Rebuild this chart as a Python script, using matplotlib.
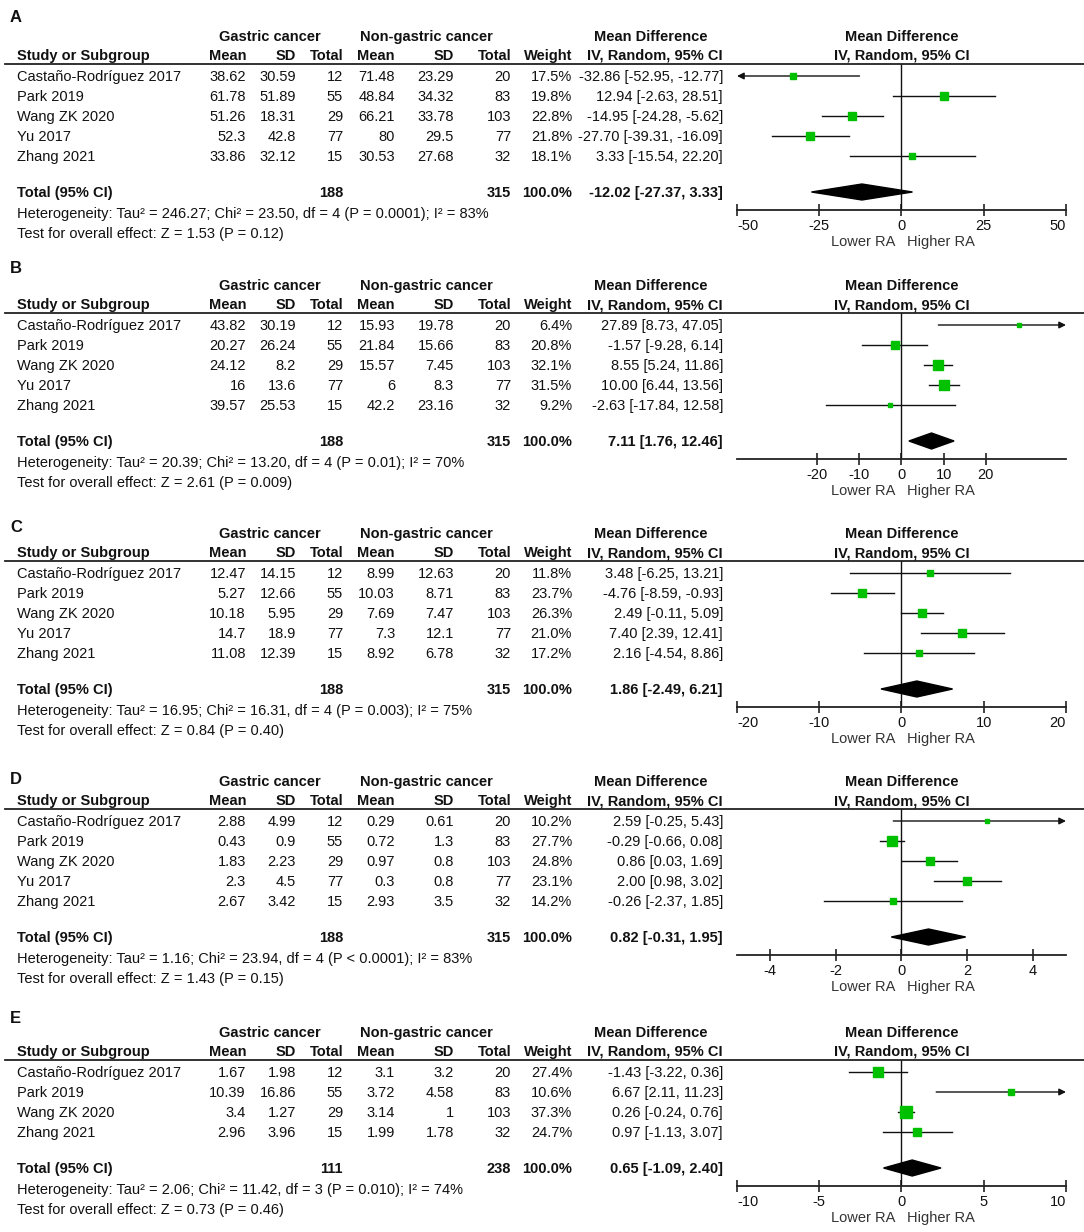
import matplotlib
matplotlib.use("Agg")
import matplotlib.pyplot as plt
from matplotlib.patches import Polygon
from matplotlib.lines import Line2D
from matplotlib.transforms import Affine2D

plt.rcParams['font.family'] = ['Liberation Sans', 'DejaVu Sans']

# ---- data -------------------------------------------------------------
studies_5 = ["Castaño-Rodríguez 2017", "Park 2019", "Wang ZK 2020", "Yu 2017", "Zhang 2021"]
studies_4 = ["Castaño-Rodríguez 2017", "Park 2019", "Wang ZK 2020", "Zhang 2021"]

# A
a_g_mean = [38.62, 61.78, 51.26, 52.3, 33.86]
a_g_sd = [30.59, 51.89, 18.31, 42.8, 32.12]
a_g_n = [12, 55, 29, 77, 15]
a_n_mean = [71.48, 48.84, 66.21, 80, 30.53]
a_n_sd = [23.29, 34.32, 33.78, 29.5, 27.68]
a_n_n = [20, 83, 103, 77, 32]
a_weight = [17.5, 19.8, 22.8, 21.8, 18.1]
a_md = [-32.86, 12.94, -14.95, -27.70, 3.33]
a_lo = [-52.95, -2.63, -24.28, -39.31, -15.54]
a_hi = [-12.77, 28.51, -5.62, -16.09, 22.20]
a_total = [-12.02, -27.37, 3.33]
a_het = ["246.27", "23.50", 4, "= 0.0001", 83]
a_test = ["1.53", "0.12"]
a_ticks = [-50, -25, 0, 25, 50]
a_lim = 50

# B
b_g_mean = [43.82, 20.27, 24.12, 16, 39.57]
b_g_sd = [30.19, 26.24, 8.2, 13.6, 25.53]
b_g_n = [12, 55, 29, 77, 15]
b_n_mean = [15.93, 21.84, 15.57, 6, 42.2]
b_n_sd = [19.78, 15.66, 7.45, 8.3, 23.16]
b_n_n = [20, 83, 103, 77, 32]
b_weight = [6.4, 20.8, 32.1, 31.5, 9.2]
b_md = [27.89, -1.57, 8.55, 10.00, -2.63]
b_lo = [8.73, -9.28, 5.24, 6.44, -17.84]
b_hi = [47.05, 6.14, 11.86, 13.56, 12.58]
b_total = [7.11, 1.76, 12.46]
b_het = ["20.39", "13.20", 4, "= 0.01", 70]
b_test = ["2.61", "0.009"]
b_ticks = [-20, -10, 0, 10, 20]
b_lim = 39

# C
c_g_mean = [12.47, 5.27, 10.18, 14.7, 11.08]
c_g_sd = [14.15, 12.66, 5.95, 18.9, 12.39]
c_g_n = [12, 55, 29, 77, 15]
c_n_mean = [8.99, 10.03, 7.69, 7.3, 8.92]
c_n_sd = [12.63, 8.71, 7.47, 12.1, 6.78]
c_n_n = [20, 83, 103, 77, 32]
c_weight = [11.8, 23.7, 26.3, 21.0, 17.2]
c_md = [3.48, -4.76, 2.49, 7.40, 2.16]
c_lo = [-6.25, -8.59, -0.11, 2.39, -4.54]
c_hi = [13.21, -0.93, 5.09, 12.41, 8.86]
c_total = [1.86, -2.49, 6.21]
c_het = ["16.95", "16.31", 4, "= 0.003", 75]
c_test = ["0.84", "0.40"]
c_ticks = [-20, -10, 0, 10, 20]
c_lim = 20

# D
d_g_mean = [2.88, 0.43, 1.83, 2.3, 2.67]
d_g_sd = [4.99, 0.9, 2.23, 4.5, 3.42]
d_g_n = [12, 55, 29, 77, 15]
d_n_mean = [0.29, 0.72, 0.97, 0.3, 2.93]
d_n_sd = [0.61, 1.3, 0.8, 0.8, 3.5]
d_n_n = [20, 83, 103, 77, 32]
d_weight = [10.2, 27.7, 24.8, 23.1, 14.2]
d_md = [2.59, -0.29, 0.86, 2.00, -0.26]
d_lo = [-0.25, -0.66, 0.03, 0.98, -2.37]
d_hi = [5.43, 0.08, 1.69, 3.02, 1.85]
d_total = [0.82, -0.31, 1.95]
d_het = ["1.16", "23.94", 4, "< 0.0001", 83]
d_test = ["1.43", "0.15"]
d_ticks = [-4, -2, 0, 2, 4]
d_lim = 5

# E
e_g_mean = [1.67, 10.39, 3.4, 2.96]
e_g_sd = [1.98, 16.86, 1.27, 3.96]
e_g_n = [12, 55, 29, 15]
e_n_mean = [3.1, 3.72, 3.14, 1.99]
e_n_sd = [3.2, 4.58, 1, 1.78]
e_n_n = [20, 83, 103, 32]
e_weight = [27.4, 10.6, 37.3, 24.7]
e_md = [-1.43, 6.67, 0.26, 0.97]
e_lo = [-3.22, 2.11, -0.24, -1.13]
e_hi = [0.36, 11.23, 0.76, 3.07]
e_total = [0.65, -1.09, 2.40]
e_het = ["2.06", "11.42", 3, "= 0.010", 74]
e_test = ["0.73", "0.46"]
e_ticks = [-10, -5, 0, 5, 10]
e_lim = 10

panels = [
    ("A", studies_5, a_g_mean, a_g_sd, a_g_n, a_n_mean, a_n_sd, a_n_n, a_weight, a_md, a_lo, a_hi, a_total, a_het, a_test, a_ticks, a_lim),
    ("B", studies_5, b_g_mean, b_g_sd, b_g_n, b_n_mean, b_n_sd, b_n_n, b_weight, b_md, b_lo, b_hi, b_total, b_het, b_test, b_ticks, b_lim),
    ("C", studies_5, c_g_mean, c_g_sd, c_g_n, c_n_mean, c_n_sd, c_n_n, c_weight, c_md, c_lo, c_hi, c_total, c_het, c_test, c_ticks, c_lim),
    ("D", studies_5, d_g_mean, d_g_sd, d_g_n, d_n_mean, d_n_sd, d_n_n, d_weight, d_md, d_lo, d_hi, d_total, d_het, d_test, d_ticks, d_lim),
    ("E", studies_4, e_g_mean, e_g_sd, e_g_n, e_n_mean, e_n_sd, e_n_n, e_weight, e_md, e_lo, e_hi, e_total, e_het, e_test, e_ticks, e_lim),
]

# ---- layout (pixels) --------------------------------------------------
W, H = 1084, 1232
FS = 10.5
INK = "#111111"
GREEN = "#00c000"
ROW = 20
first_row_y = [76, 325, 573, 821, 1072]
letter_y = [17, 268, 527, 779, 1018]
col_right = [246, 296, 343, 395, 454, 511, 572, 723]
PLOT_X0, PLOT_X1 = 737, 1066
plot_mid = (PLOT_X0 + PLOT_X1) / 2

fig = plt.figure(figsize=(W / 100, H / 100), dpi=100)
px = Affine2D().scale(1 / W, -1 / H).translate(0, 1) + fig.transFigure


def txt(x, y, s, ha="left", bold=False, size=FS):
    fig.text(x, y + 5, s, transform=px, ha=ha, va="baseline", fontsize=size,
             fontweight="bold" if bold else "normal", color=INK)


def num(v):
    return f"{v:g}"


for k, (letter, studies, gm, gs, gn, nm, ns, nn, wt, md, lo, hi, tot, het, test, ticks, lim) in enumerate(panels):
    r0 = first_row_y[k]
    n = len(studies)

    txt(10, letter_y[k], letter, bold=True, size=FS + 1.5)
    txt(270, r0 - 40, "Gastric cancer", ha="center", bold=True)
    txt(426, r0 - 40, "Non-gastric cancer", ha="center", bold=True)
    txt(651, r0 - 40, "Mean Difference", ha="center", bold=True)
    txt(plot_mid, r0 - 40, "Mean Difference", ha="center", bold=True)

    txt(17, r0 - 21, "Study or Subgroup", bold=True)
    for x, h in zip(col_right, ["Mean", "SD", "Total", "Mean", "SD", "Total", "Weight", "IV, Random, 95% CI"]):
        txt(x, r0 - 21, h, ha="right", bold=True)
    txt(plot_mid, r0 - 21, "IV, Random, 95% CI", ha="center", bold=True)
    fig.add_artist(Line2D([5, W], [r0 - 12, r0 - 12], transform=px, color="#222222", lw=1.3))

    # study rows
    for i in range(n):
        y = r0 + ROW * i
        txt(17, y, studies[i])
        cells = [num(gm[i]), num(gs[i]), str(gn[i]), num(nm[i]), num(ns[i]), str(nn[i]),
                 f"{wt[i]:.1f}%", f"{md[i]:.2f} [{lo[i]:.2f}, {hi[i]:.2f}]"]
        for x, c in zip(col_right, cells):
            txt(x, y, c, ha="right")

    # total row
    yt = r0 + ROW * (n - 1) + 36
    txt(17, yt, "Total (95% CI)", bold=True)
    txt(col_right[2], yt, str(sum(gn)), ha="right", bold=True)
    txt(col_right[5], yt, str(sum(nn)), ha="right", bold=True)
    txt(col_right[6], yt, f"{sum(wt):.1f}%", ha="right", bold=True)
    txt(col_right[7], yt, f"{tot[0]:.2f} [{tot[1]:.2f}, {tot[2]:.2f}]", ha="right", bold=True)
    txt(17, yt + 21, f"Heterogeneity: Tau² = {het[0]}; Chi² = {het[1]}, df = {het[2]} (P {het[3]}); I² = {het[4]}%")
    txt(17, yt + 41, f"Test for overall effect: Z = {test[0]} (P = {test[1]})")

    # forest plot
    top_px = r0 - 12
    axis_px = yt + 18
    ax = fig.add_axes([PLOT_X0 / W, 1 - axis_px / H, (PLOT_X1 - PLOT_X0) / W, (axis_px - top_px) / H])
    ax.set_xlim(-lim, lim)
    ax.set_ylim((axis_px - r0) / ROW, (top_px - r0) / ROW)
    ax.patch.set_alpha(0)
    for s in ["top", "left", "right"]:
        ax.spines[s].set_visible(False)
    ax.spines["bottom"].set_linewidth(1.3)
    ax.spines["bottom"].set_color("#222222")
    ax.set_yticks([])
    ax.set_xticks(ticks)
    ax.set_xticklabels([str(t) for t in ticks])
    ax.tick_params(axis="x", direction="inout", length=9, width=1.2, color="#222222",
                   labelsize=FS, labelcolor=INK, pad=2)
    for lab, t in zip(ax.get_xticklabels(), ticks):
        if t == -lim:
            lab.set_ha("left")
        elif t == lim:
            lab.set_ha("right")
    ax.axvline(0, color="#111111", lw=1.0)

    for i in range(n):
        a, b = max(lo[i], -lim), min(hi[i], lim)
        if hi[i] > lim:
            ax.annotate("", xy=(lim, i), xytext=(a, i), annotation_clip=False,
                        arrowprops=dict(arrowstyle="-|>", color="#111111", lw=1.0,
                                        mutation_scale=10, shrinkA=0, shrinkB=0))
        elif lo[i] < -lim:
            ax.annotate("", xy=(-lim, i), xytext=(b, i), annotation_clip=False,
                        arrowprops=dict(arrowstyle="-|>", color="#111111", lw=1.0,
                                        mutation_scale=10, shrinkA=0, shrinkB=0))
        else:
            ax.plot([a, b], [i, i], color="#111111", lw=1.0, clip_on=False)
        side_px = 2.5 + 0.24 * wt[i]
        ax.plot(md[i], i, marker="s", ms=side_px * 0.72, color=GREEN, mec=GREEN, zorder=3)

    ti = (yt - r0) / ROW
    ax.add_patch(Polygon([(tot[1], ti), (tot[0], ti - 0.4), (tot[2], ti), (tot[0], ti + 0.4)],
                         closed=True, color="black", zorder=4))

    ax.annotate("Lower RA", xy=(0, 0), xycoords=("data", "axes fraction"), xytext=(-6, -32),
                textcoords="offset pixels", ha="right", va="center", fontsize=FS, color="#333333")
    ax.annotate("Higher RA", xy=(0, 0), xycoords=("data", "axes fraction"), xytext=(6, -32),
                textcoords="offset pixels", ha="left", va="center", fontsize=FS, color="#333333")

fig.savefig("out.png", dpi=100, facecolor="white")
